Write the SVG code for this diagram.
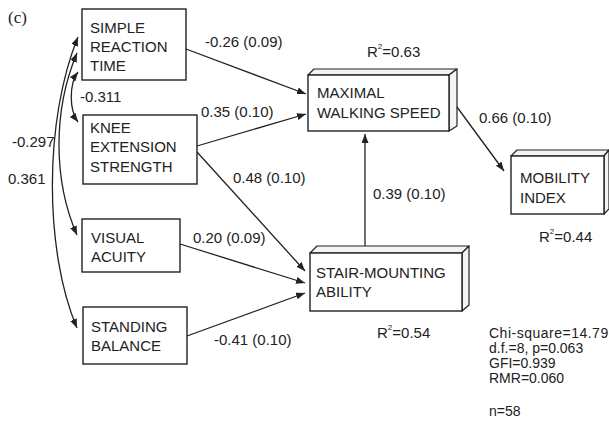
<svg xmlns="http://www.w3.org/2000/svg" width="609" height="422" viewBox="0 0 609 422">
<style>
.box{fill:#fff;stroke:#222;stroke-width:1.4}
.side{fill:#f4f4f4;stroke:#222;stroke-width:1.2;stroke-linejoin:round}
.t{font-family:"Liberation Sans",Arial,sans-serif;font-size:15px;fill:#222}
.s{font-family:"Liberation Sans",Arial,sans-serif;font-size:14px;fill:#222}
.sup{font-size:8px}
.ln{fill:none;stroke:#222;stroke-width:1.3}
</style>
<defs>
<marker id="ah" markerUnits="userSpaceOnUse" markerWidth="10" markerHeight="8" refX="9" refY="3.5" orient="auto-start-reverse">
<path d="M0,0 L9,3.5 L0,7 z" fill="#222"/>
</marker>
</defs>
<rect width="609" height="422" fill="#fff"/>
<text x="8" y="23" font-family="'Liberation Serif',serif" font-size="17" fill="#222">(c)</text>

<g id="srt">
<rect class="box" x="82" y="9" width="104" height="71"/>
<text class="t" x="90" y="33">SIMPLE</text>
<text class="t" x="90" y="52">REACTION</text>
<text class="t" x="90" y="71">TIME</text>
</g>
<g id="kes">
<rect class="box" x="83" y="115" width="114" height="69"/>
<text class="t" x="90" y="133">KNEE</text>
<text class="t" x="90" y="152">EXTENSION</text>
<text class="t" x="90" y="172">STRENGTH</text>
</g>
<g id="va">
<rect class="box" x="82" y="219" width="98" height="53"/>
<text class="t" x="91" y="243">VISUAL</text>
<text class="t" x="91" y="262">ACUITY</text>
</g>
<g id="sb">
<rect class="box" x="83" y="307" width="104" height="57"/>
<text class="t" x="91" y="332">STANDING</text>
<text class="t" x="91" y="351">BALANCE</text>
</g>
<g id="mws">
<polygon class="side" points="308,75 314,69 457,69 449,75"/>
<polygon class="side" points="449,75 457,69 457,126 449,131"/>
<rect class="box" x="308" y="75" width="141" height="56"/>
<text class="t" x="317" y="98">MAXIMAL</text>
<text class="t" x="317" y="118">WALKING SPEED</text>
<text class="t" x="367" y="57">R<tspan class="sup" dy="-8">2</tspan><tspan dy="8">=0.63</tspan></text>
</g>
<g id="sma">
<polygon class="side" points="310,253 317,246 469,246 462,253"/>
<polygon class="side" points="462,253 469,246 469,305 462,311"/>
<rect class="box" x="310" y="253" width="152" height="58"/>
<text class="t" x="316" y="278">STAIR-MOUNTING</text>
<text class="t" x="316" y="297">ABILITY</text>
<text class="t" x="377" y="338">R<tspan class="sup" dy="-8">2</tspan><tspan dy="8">=0.54</tspan></text>
</g>
<g id="mi">
<polygon class="side" points="511,156 517,150 609,150 604,156"/>
<polygon class="side" points="604,156 609,150 609,209 604,214"/>
<rect class="box" x="511" y="156" width="93" height="58"/>
<text class="t" x="520" y="183">MOBILITY</text>
<text class="t" x="520" y="203">INDEX</text>
<text class="t" x="539" y="242">R<tspan class="sup" dy="-8">2</tspan><tspan dy="8">=0.44</tspan></text>
</g>

<g id="connectors">
<path class="ln" d="M186,49 L306,94" marker-end="url(#ah)"/>
<path class="ln" d="M197,146 L306,114" marker-end="url(#ah)"/>
<path class="ln" d="M197,152 L305,271" marker-end="url(#ah)"/>
<path class="ln" d="M180,244 L305,283" marker-end="url(#ah)"/>
<path class="ln" d="M187,336 L305,293" marker-end="url(#ah)"/>
<path class="ln" d="M365,246 L365,134" marker-end="url(#ah)"/>
<path class="ln" d="M457,107 L504,171" marker-end="url(#ah)"/>
<path class="ln" d="M78,72 C69,84 69,110 78,122" marker-start="url(#ah)" marker-end="url(#ah)"/>
<path class="ln" d="M77,53 C53,110 53,180 77,235" marker-start="url(#ah)" marker-end="url(#ah)"/>
<path class="ln" d="M78,37 C44,120 44,250 77,328" marker-start="url(#ah)" marker-end="url(#ah)"/>
</g>

<g id="labels">
<text class="t" x="205" y="47">-0.26 (0.09)</text>
<text class="t" x="201" y="117">0.35 (0.10)</text>
<text class="t" x="233" y="183">0.48 (0.10)</text>
<text class="t" x="373" y="199">0.39 (0.10)</text>
<text class="t" x="479" y="123">0.66 (0.10)</text>
<text class="t" x="193" y="243">0.20 (0.09)</text>
<text class="t" x="214" y="345">-0.41 (0.10)</text>
<text class="t" x="80" y="102">-0.311</text>
<text class="t" x="12" y="147">-0.297</text>
<text class="t" x="8" y="184">0.361</text>
<text class="s" x="489" y="338" letter-spacing="0.5">Chi-square=14.79</text>
<text class="s" x="489" y="353">d.f.=8, p=0.063</text>
<text class="s" x="489" y="368">GFI=0.939</text>
<text class="s" x="489" y="383">RMR=0.060</text>
<text class="s" x="489" y="416">n=58</text>
</g>
</svg>
